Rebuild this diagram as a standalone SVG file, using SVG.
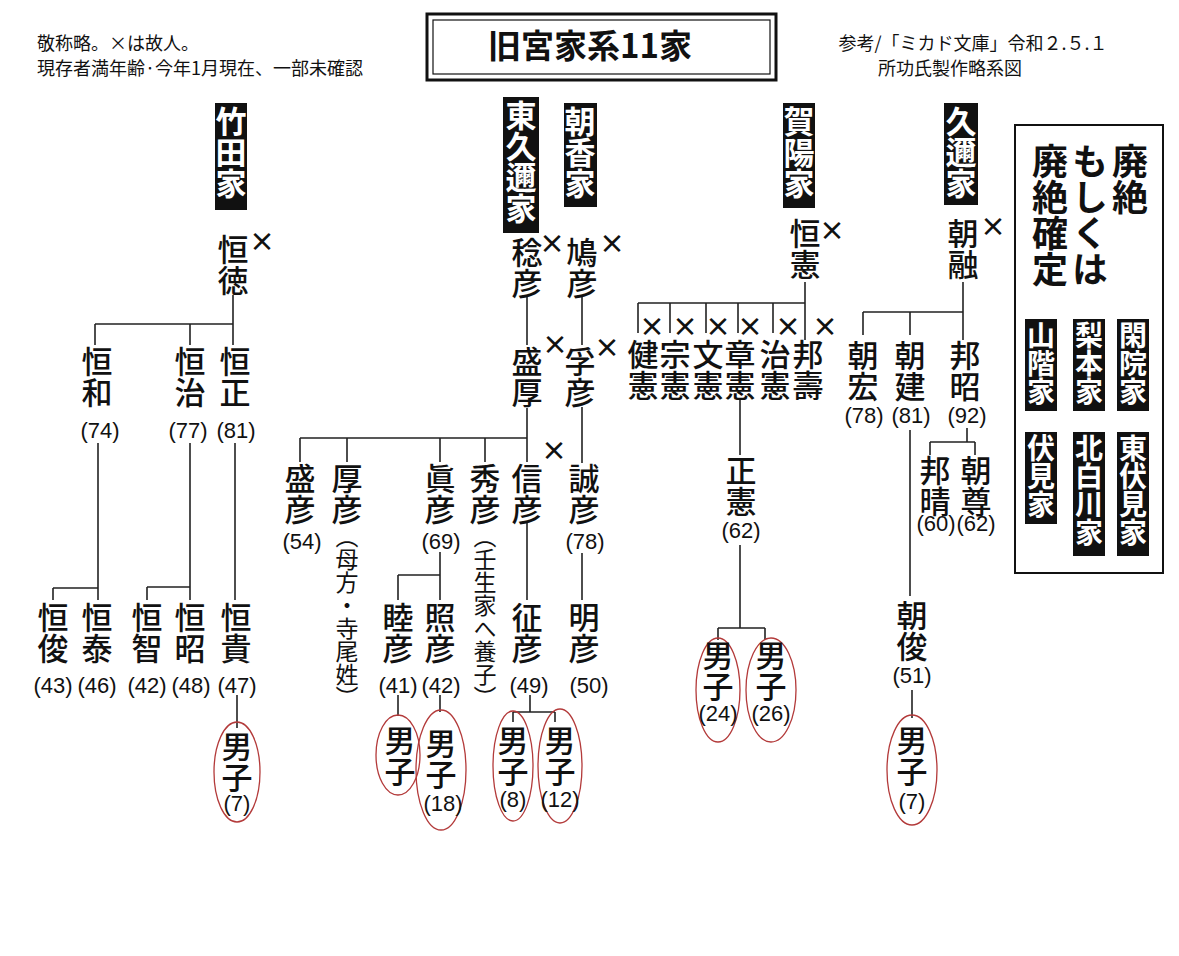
<svg xmlns="http://www.w3.org/2000/svg" width="1179" height="956" viewBox="0 0 1179 956">
<style>
text{font-family:"Noto Sans CJK JP","Liberation Sans",sans-serif;fill:#111}
.n{font-size:31px;writing-mode:vertical-rl;text-orientation:upright;font-weight:500}
.p{font-size:23px;writing-mode:vertical-rl;font-weight:400}
.a{font-family:"Liberation Sans","Noto Sans CJK JP",sans-serif;font-size:22px;text-anchor:middle}
.x{font-family:"Noto Sans CJK JP",sans-serif;font-size:26px;text-anchor:middle;font-weight:bold}
.f{font-size:31px;writing-mode:vertical-rl;text-orientation:upright;font-weight:bold;fill:#fff}
.h{font-size:18px}
.l{fill:none;stroke:#222;stroke-width:1.6}
.e{fill:none;stroke:#b33a3a;stroke-width:1.3}
</style>
<rect width="1179" height="956" fill="#fff"/>
<g id="header">
<text class="h" x="37" y="50">敬称略。×は故人。</text>
<text class="h" x="37" y="75">現存者満年齢·今年1月現在、一部未確認</text>
<rect x="427" y="14" width="349" height="66" fill="none" stroke="#111" stroke-width="3"/>
<rect x="433" y="20" width="337" height="54" fill="none" stroke="#111" stroke-width="1.2"/>
<text x="590" y="58" style="font-size:33px;font-weight:bold;text-anchor:middle">旧宮家系11家</text>
<text class="h" x="973" y="50" text-anchor="middle">参考/「ミカド文庫」令和２.５.１</text>
<text class="h" x="950" y="75" text-anchor="middle">所功氏製作略系図</text>
</g>
<g id="families">
<rect x="215" y="103" width="32" height="107" fill="#111"/><text class="f" x="231" y="106">竹田家</text>
<rect x="503" y="97" width="36" height="136" fill="#111"/><text class="f" x="521" y="100">東久邇家</text>
<rect x="564" y="103" width="33" height="104" fill="#111"/><text class="f" x="580" y="106">朝香家</text>
<rect x="783" y="103" width="32" height="105" fill="#111"/><text class="f" x="799" y="106">賀陽家</text>
<rect x="944" y="103" width="34" height="102" fill="#111"/><text class="f" x="961" y="106">久邇家</text>
</g>
<g id="legend">
<rect x="1015" y="125" width="148" height="448" fill="none" stroke="#111" stroke-width="2"/>
<text x="1130" y="143" style="font-size:36px;writing-mode:vertical-rl;text-orientation:upright;font-weight:bold">廃絶</text>
<text x="1090" y="143" style="font-size:36px;writing-mode:vertical-rl;text-orientation:upright;font-weight:bold">もしくは</text>
<text x="1050" y="143" style="font-size:36px;writing-mode:vertical-rl;text-orientation:upright;font-weight:bold">廃絶確定</text>
<rect x="1025" y="319" width="32" height="92" fill="#111"/><text class="f" x="1041" y="321" style="font-size:28px">山階家</text>
<rect x="1073" y="319" width="32" height="92" fill="#111"/><text class="f" x="1089" y="321" style="font-size:28px">梨本家</text>
<rect x="1117" y="319" width="32" height="92" fill="#111"/><text class="f" x="1133" y="321" style="font-size:28px">閑院家</text>
<rect x="1025" y="432" width="32" height="92" fill="#111"/><text class="f" x="1041" y="434" style="font-size:28px">伏見家</text>
<rect x="1073" y="432" width="32" height="124" fill="#111"/><text class="f" x="1089" y="434" style="font-size:28px">北白川家</text>
<rect x="1117" y="432" width="32" height="124" fill="#111"/><text class="f" x="1133" y="434" style="font-size:28px">東伏見家</text>
</g>
<g id="connectors">
<path class="l" d="M233 295V324M95 324H233M95 324V345M190 324V345M233 324V345"/>
<path class="l" d="M98 443V588M53 588H98M53 588V600M98 588V600"/>
<path class="l" d="M190 443V587M147 587H190M147 587V600M190 587V600"/>
<path class="l" d="M235 443V600M237 695V728"/>
<path class="l" d="M527 295V345M527 408V438M300 438H527M300 438V462M347 438V462M440 438V462M485 438V462M527 438V462"/>
<path class="l" d="M440 552V575M398 575H440M398 575V600M440 575V600M398 695V716M440 695V712"/>
<path class="l" d="M527 523V600M530 695V712M513 712H555M513 712V722M555 712V722"/>
<path class="l" d="M582 295V345M582 407V463M582 553V600"/>
<path class="l" d="M805 282V303M638 303H805M638 303V333M670 303V333M706 303V333M738 303V333M773 303V333M805 303V340"/>
<path class="l" d="M740 400V455M740 545V628M718 628H765M718 628V640M765 628V640"/>
<path class="l" d="M963 282V312M863 312H963M863 312V335M910 312V335M963 312V340"/>
<path class="l" d="M967 428V442M930 442H975M930 442V455M975 442V455M910 430V596M912 690V718"/>
</g>
<g id="takeda">
<text class="n" x="233" y="234">恒徳</text><text class="x" x="262" y="251">×</text>
<text class="n" x="97" y="346">恒和</text><text class="a" x="100" y="438">(74)</text>
<text class="n" x="190" y="346">恒治</text><text class="a" x="188" y="438">(77)</text>
<text class="n" x="235" y="346">恒正</text><text class="a" x="236" y="438">(81)</text>
<text class="n" x="53" y="602">恒俊</text><text class="a" x="53" y="693">(43)</text>
<text class="n" x="97" y="602">恒泰</text><text class="a" x="97" y="693">(46)</text>
<text class="n" x="147" y="602">恒智</text><text class="a" x="147" y="693">(42)</text>
<text class="n" x="190" y="602">恒昭</text><text class="a" x="191" y="693">(48)</text>
<text class="n" x="236" y="602">恒貴</text><text class="a" x="237" y="693">(47)</text>
<ellipse class="e" cx="237" cy="772" rx="23" ry="50"/><text class="n" x="237" y="731">男子</text><text class="a" x="237" y="811">(7)</text>
</g>
<g id="higashikuni">
<text class="n" x="527" y="237">稔彦</text><text class="x" x="552" y="253">×</text>
<text class="n" x="527" y="346">盛厚</text><text class="x" x="555" y="354">×</text>
<text class="n" x="300" y="463">盛彦</text><text class="a" x="302" y="549">(54)</text>
<text class="n" x="347" y="463">厚彦</text><text class="p" x="347" y="525">（母方・寺尾姓）</text>
<text class="n" x="440" y="463">眞彦</text><text class="a" x="441" y="549">(69)</text>
<text class="n" x="485" y="463">秀彦</text><text class="p" x="485" y="525">（壬生家へ養子）</text>
<text class="n" x="527" y="463">信彦</text><text class="x" x="554" y="460">×</text>
<text class="n" x="398" y="602">睦彦</text><text class="a" x="398" y="693">(41)</text>
<text class="n" x="440" y="602">照彦</text><text class="a" x="441" y="693">(42)</text>
<text class="n" x="527" y="602">征彦</text><text class="a" x="529" y="693">(49)</text>
<ellipse class="e" cx="398" cy="755" rx="22" ry="40"/><text class="n" x="400" y="725">男子</text>
<ellipse class="e" cx="441" cy="770" rx="25" ry="60"/><text class="n" x="441" y="728">男子</text><text class="a" x="443" y="811">(18)</text>
<ellipse class="e" cx="513" cy="766" rx="20" ry="55"/><text class="n" x="513" y="725">男子</text><text class="a" x="513" y="807">(8)</text>
<ellipse class="e" cx="560" cy="766" rx="22" ry="57"/><text class="n" x="560" y="725">男子</text><text class="a" x="560" y="807">(12)</text>
</g>
<g id="asaka">
<text class="n" x="582" y="237">鳩彦</text><text class="x" x="612" y="253">×</text>
<text class="n" x="580" y="346">孚彦</text><text class="x" x="607" y="357">×</text>
<text class="n" x="584" y="463">誠彦</text><text class="a" x="585" y="549">(78)</text>
<text class="n" x="584" y="602">明彦</text><text class="a" x="589" y="693">(50)</text>
</g>
<g id="kaya">
<text class="n" x="805" y="218">恒憲</text><text class="x" x="832" y="240">×</text>
<text class="x" x="652" y="336">×</text><text class="x" x="685" y="336">×</text><text class="x" x="718" y="336">×</text><text class="x" x="750" y="336">×</text><text class="x" x="788" y="336">×</text><text class="x" x="825" y="336">×</text>
<text class="n" x="643" y="339">健憲</text>
<text class="n" x="675" y="339">宗憲</text>
<text class="n" x="708" y="339">文憲</text>
<text class="n" x="740" y="339">章憲</text>
<text class="n" x="775" y="339">治憲</text>
<text class="n" x="808" y="339">邦壽</text>
<text class="n" x="741" y="455">正憲</text><text class="a" x="741" y="538">(62)</text>
<ellipse class="e" cx="718" cy="690" rx="22" ry="52"/><text class="n" x="718" y="640">男子</text><text class="a" x="718" y="721">(24)</text>
<ellipse class="e" cx="771" cy="690" rx="25" ry="52"/><text class="n" x="771" y="640">男子</text><text class="a" x="771" y="721">(26)</text>
</g>
<g id="kuni">
<text class="n" x="963" y="218">朝融</text><text class="x" x="993" y="236">×</text>
<text class="n" x="863" y="340">朝宏</text><text class="a" x="864" y="423">(78)</text>
<text class="n" x="910" y="340">朝建</text><text class="a" x="911" y="423">(81)</text>
<text class="n" x="965" y="340">邦昭</text><text class="a" x="967" y="423">(92)</text>
<text class="n" x="935" y="455">邦晴</text><text class="a" x="936" y="531">(60)</text>
<text class="n" x="976" y="455">朝尊</text><text class="a" x="976" y="531">(62)</text>
<text class="n" x="912" y="600">朝俊</text><text class="a" x="912" y="683">(51)</text>
<ellipse class="e" cx="912" cy="770" rx="25" ry="55"/><text class="n" x="912" y="725">男子</text><text class="a" x="912" y="809">(7)</text>
</g>
</svg>
